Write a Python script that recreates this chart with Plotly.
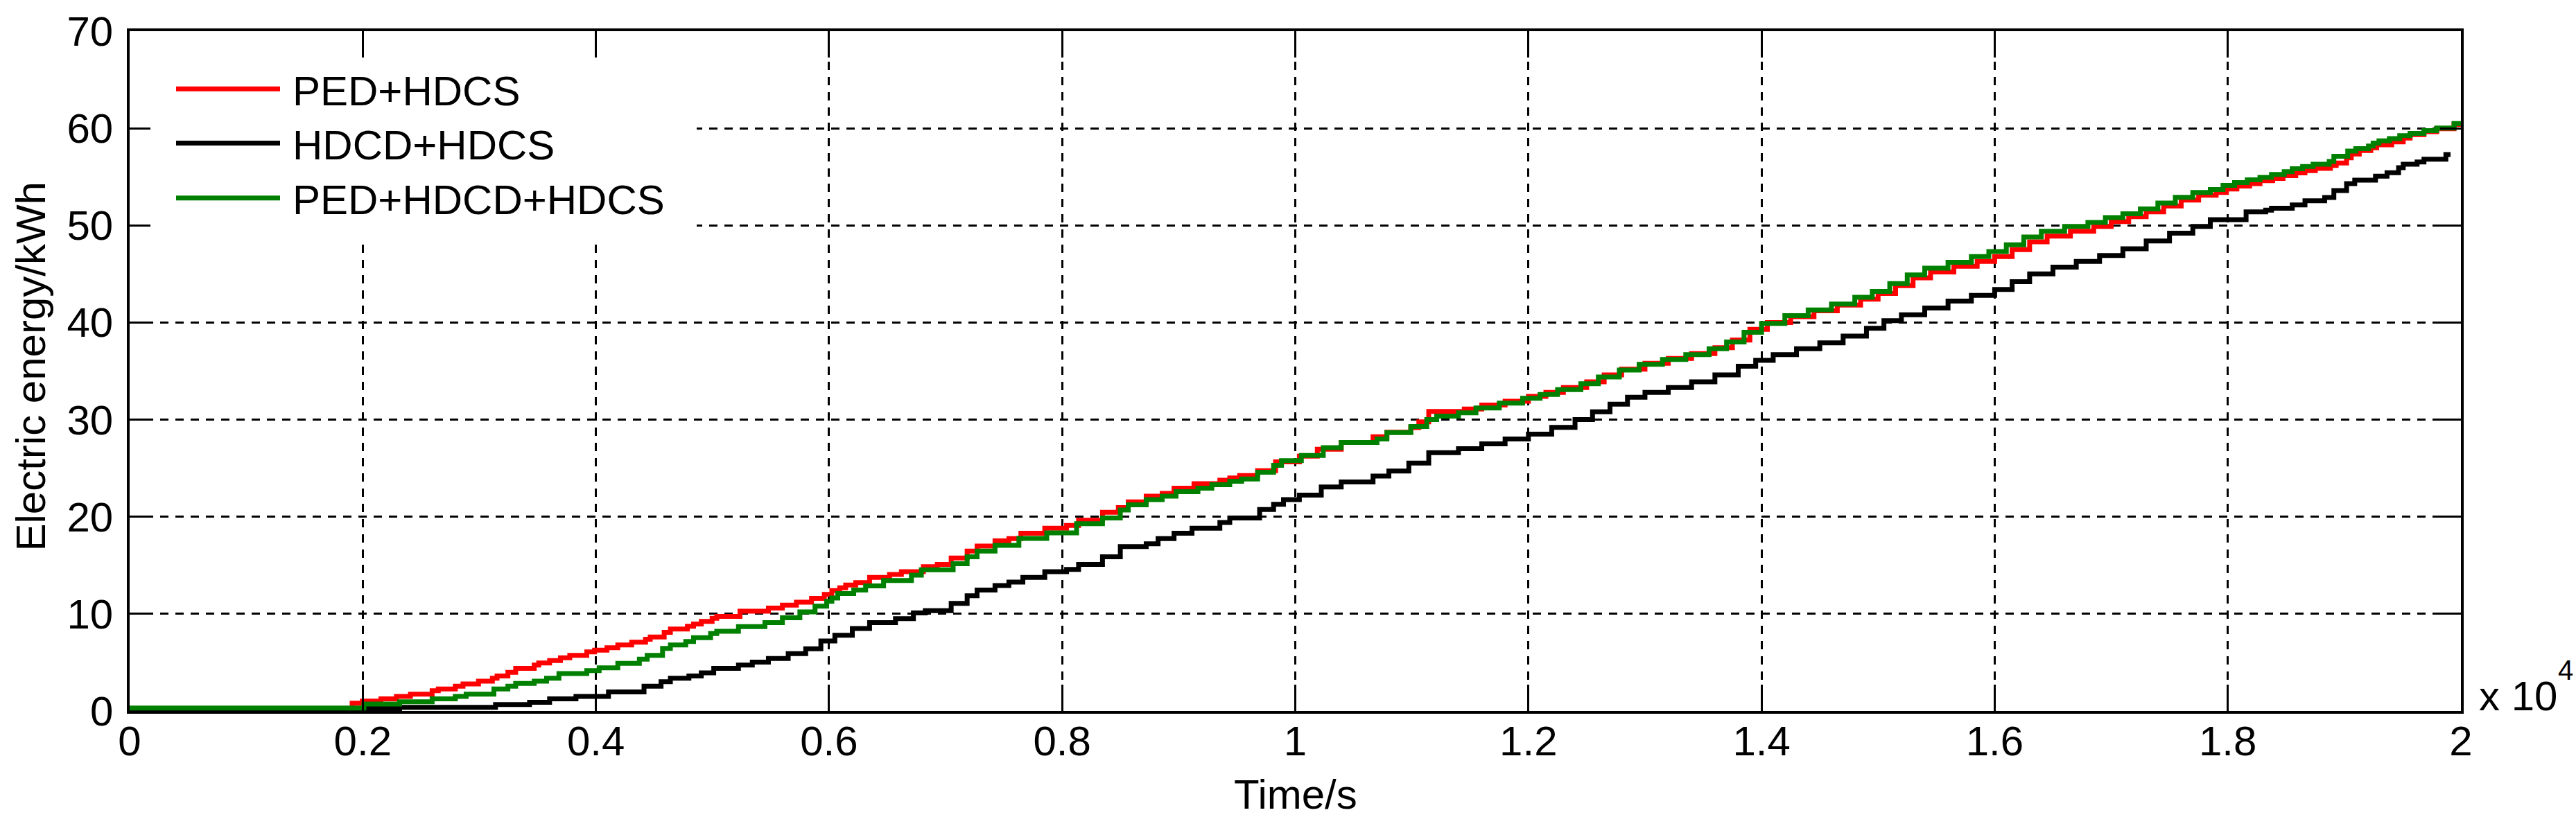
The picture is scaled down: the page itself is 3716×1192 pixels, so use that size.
"""Electric energy vs time for three drive/charging configurations."""
import plotly.graph_objects as go

FONT = "Liberation Sans, Arial, sans-serif"

# step curves: time in s, energy in kWh
ped_t = [0, 1909, 1997, 2156, 2289, 2409, 2595, 2648, 2794, 2860, 2993, 3112, 3152, 3245, 3312,
         3471, 3510, 3603, 3696, 3776, 3922, 3989, 4095, 4188, 4307, 4426, 4466, 4586, 4639, 4785,
         4838, 4904, 4997, 5037, 5236, 5480, 5600, 5720, 5850, 5960, 6024, 6092, 6143, 6229, 6348,
         6519, 6621, 6809, 6929, 7048, 7185, 7270, 7424, 7543, 7646, 7851, 8038, 8141, 8346, 8482,
         8567, 8721, 8858, 8960, 9131, 9353, 9438, 9523, 9677, 9831, 10035, 10189, 10394, 10667,
         10786, 10991, 11060, 11145, 11450, 11600, 11800, 12000, 12150, 12300, 12500, 12650, 12800,
         13000, 13200, 13400, 13600, 13750, 13900, 14050, 14250, 14450, 14650, 14850, 15000, 15150,
         15300, 15450, 15650, 15850, 16000, 16150, 16300, 16450, 16650, 16850, 17000, 17150, 17300,
         17450, 17600, 17750, 17900, 17988, 18078, 18187, 18276, 18385, 18474, 18583, 18662, 18751,
         18880, 18930, 19019, 19059, 19128, 19227, 19277, 19406, 19505, 19564, 19683, 19792, 19941,
         20000]
ped_e = [0.25, 0.8, 1.02, 1.25, 1.49, 1.73, 2.08, 2.27, 2.55, 2.79, 3.07, 3.38, 3.61, 3.97, 4.39,
         4.72, 4.95, 5.19, 5.47, 5.73, 6.09, 6.27, 6.51, 6.79, 7.08, 7.38, 7.62, 8.09, 8.44, 8.73,
         8.96, 9.22, 9.55, 9.74, 10.28, 10.6, 10.9, 11.2, 11.6, 12.0, 12.4, 12.69, 12.97, 13.21, 13.75,
         14.05, 14.34, 14.86, 15.09, 15.75, 16.46, 16.98, 17.52, 17.75, 18.3, 18.82, 19.1, 19.64, 20.47, 20.94,
         21.53, 22.12, 22.4, 22.94, 23.41, 23.77, 24.0, 24.24, 24.75, 25.65, 26.24, 26.95, 27.65, 28.24,
         28.7, 29.19, 29.78, 30.84, 31.1, 31.5, 31.9, 32.4, 32.8, 33.3, 33.9, 34.6, 35.2,
         35.8, 36.3, 36.8, 37.4, 38.2, 39.3, 40.0, 40.6, 41.2, 41.8, 42.4, 43.0, 43.8,
         44.6, 45.2, 45.8, 46.3, 46.8, 47.5, 48.3, 48.9, 49.4, 49.9, 50.4, 50.9, 51.4,
         52.0, 52.6, 53.1, 53.4, 53.75, 54.06, 54.3, 54.6, 54.84, 55.12, 55.4, 55.64, 55.87,
         56.18, 56.42, 56.96, 57.36, 57.71, 58.0, 58.3, 58.6, 59.0, 59.35, 59.65, 59.95, 60.4,
         60.4]

hdcd_t = [0, 2023, 2316, 3139, 3431, 3603, 3829, 4108, 4413, 4559, 4639, 4798, 4904, 5011, 5223,
          5342, 5480, 5650, 5800, 5930, 6050, 6200, 6348, 6570, 6724, 6826, 7048, 7185, 7270, 7424,
          7543, 7663, 7851, 8038, 8141, 8346, 8499, 8721, 8823, 8960, 9114, 9353, 9438, 9694, 9814,
          9899, 10035, 10223, 10394, 10667, 10803, 10974, 11145, 11400, 11600, 11800, 12000, 12200,
          12400, 12550, 12700, 12850, 13000, 13200, 13400, 13600, 13800, 13950, 14100, 14300, 14500,
          14700, 14900, 15050, 15200, 15400, 15600, 15800, 16000, 16150, 16300, 16500, 16700, 16900,
          17100, 17300, 17500, 17700, 17850, 18157, 18325, 18375, 18553, 18662, 18831, 18910, 19019,
          19089, 19267, 19366, 19465, 19505, 19624, 19683, 19871, 19911]
hdcd_e = [0.0, 0.25, 0.38, 0.66, 0.9, 1.25, 1.49, 1.96, 2.55, 3.02, 3.38, 3.61, 3.92, 4.39, 4.72,
          5.03, 5.4, 5.9, 6.4, 7.2, 7.8, 8.5, 9.1, 9.5, 10.09, 10.33, 11.08, 11.86, 12.45, 12.92,
          13.28, 13.75, 14.34, 14.57, 15.09, 15.87, 16.93, 17.21, 17.75, 18.3, 18.82, 19.4, 19.88, 20.75, 21.29,
          21.76, 22.23, 23.06, 23.58, 24.19, 24.71, 25.53, 26.59, 27.0, 27.5, 28.0, 28.5, 29.2,
          30.0, 30.8, 31.6, 32.3, 32.8, 33.3, 33.9, 34.6, 35.5, 36.1, 36.7, 37.3, 37.9,
          38.6, 39.4, 40.2, 40.8, 41.5, 42.2, 42.8, 43.4, 44.2, 45.0, 45.7, 46.3, 46.9,
          47.6, 48.4, 49.2, 49.9, 50.6, 51.4, 51.58, 51.77, 52.1, 52.53, 52.88, 53.59, 54.3,
          54.65, 55.07, 55.43, 55.94, 56.3, 56.53, 56.82, 57.29, 57.29]

all_t = [0, 2010, 2316, 2595, 2794, 2887, 3125, 3245, 3312, 3471, 3577, 3683, 3922, 4028, 4188,
         4373, 4440, 4572, 4639, 4771, 4838, 4984, 5037, 5223, 5450, 5600, 5750, 5880, 5980, 6024,
         6075, 6212, 6314, 6468, 6707, 6792, 7065, 7185, 7270, 7424, 7629, 7868, 8124, 8346, 8499,
         8567, 8721, 8858, 8977, 9165, 9284, 9438, 9540, 9677, 9814, 9882, 10052, 10240, 10394,
         10701, 10786, 10991, 11128, 11213, 11400, 11550, 11750, 11950, 12100, 12250, 12450, 12600,
         12780, 12950, 13150, 13350, 13550, 13700, 13850, 14000, 14200, 14400, 14600, 14800, 14950,
         15100, 15250, 15400, 15600, 15800, 15950, 16100, 16250, 16400, 16600, 16800, 16950, 17100,
         17250, 17400, 17550, 17700, 17850, 17959, 18058, 18167, 18276, 18375, 18484, 18553, 18642,
         18732, 18870, 18910, 19029, 19098, 19207, 19247, 19297, 19386, 19475, 19564, 19683, 19792,
         19941, 20000]
all_e = [0.3, 0.71, 0.95, 1.25, 1.49, 1.73, 2.27, 2.55, 2.83, 3.07, 3.38, 3.85, 4.15, 4.44, 4.91,
         5.33, 5.73, 6.44, 6.79, 7.15, 7.55, 7.97, 8.21, 8.68, 9.1, 9.6, 10.2, 10.8, 11.3, 11.63,
         12.1, 12.45, 12.88, 13.44, 13.98, 14.53, 15.16, 15.87, 16.46, 17.05, 17.76, 18.34, 19.29, 19.88, 20.7,
         21.22, 21.76, 22.12, 22.59, 22.94, 23.29, 23.65, 23.88, 24.59, 25.3, 25.77, 26.31, 27.11, 27.65,
         28.0, 28.67, 29.3, 30.0, 30.36, 30.7, 31.2, 31.7, 32.2, 32.6, 33.1, 33.7, 34.4,
         35.1, 35.7, 36.2, 36.7, 37.3, 38.0, 39.0, 39.9, 40.7, 41.3, 41.9, 42.6, 43.2,
         44.0, 44.9, 45.6, 46.2, 46.8, 47.3, 48.0, 48.8, 49.4, 49.9, 50.3, 50.8, 51.2,
         51.7, 52.3, 52.9, 53.4, 53.7, 54.13, 54.41, 54.7, 54.95, 55.24, 55.54, 55.83, 56.06,
         56.3, 56.58, 57.12, 57.66, 57.9, 58.18, 58.47, 58.7, 58.94, 59.24, 59.48, 59.76, 60.02,
         60.49, 60.49]

series = [
    ("PED+HDCS", ped_t, ped_e, "#ff0000"),
    ("HDCD+HDCS", hdcd_t, hdcd_e, "#000000"),
    ("PED+HDCD+HDCS", all_t, all_e, "#008000"),
]

x_tickvals = [0, 2000, 4000, 6000, 8000, 10000, 12000, 14000, 16000, 18000, 20000]
x_ticktext = ["0", "0.2", "0.4", "0.6", "0.8", "1", "1.2", "1.4", "1.6", "1.8", "2"]
y_tickvals = [0, 10, 20, 30, 40, 50, 60, 70]

W, H = 3716, 1192
L, R, T, B = 187, 166, 36, 166
plot_w, plot_h = W - L - R, H - T - B
X_MAX, Y_MAX = 20000, 70


def px_x(p):
    return (p - L) / plot_w


def px_y(p):
    return (H - B - p) / plot_h


fig = go.Figure()
for name, t, e, color in series:
    fig.add_trace(go.Scatter(x=t, y=e, name=name, mode="lines", line_shape="hv",
                             line=dict(color=color, width=7), showlegend=False))

# hand-drawn legend: white borderless box that hides the grid, long sample lines
fig.add_shape(type="rect", xref="x", yref="y", layer="between",
              x0=px_x(200) * X_MAX, x1=px_x(1005) * X_MAX,
              y0=px_y(337) * Y_MAX, y1=px_y(74) * Y_MAX,
              fillcolor="white", line=dict(width=0))
legend_rows = [120, 199, 279]
for (name, _, _, color), row in zip(series, legend_rows):
    fig.add_shape(type="line", xref="paper", yref="paper", layer="above",
                  x0=px_x(254), x1=px_x(404), y0=px_y(row), y1=px_y(row),
                  line=dict(color=color, width=7))
    fig.add_annotation(text=name, xref="paper", yref="paper", x=px_x(420), y=px_y(row + 3),
                       xanchor="left", yanchor="middle", showarrow=False,
                       font=dict(size=60, color="black", family=FONT))

fig.add_annotation(text="Time/s", xref="paper", yref="paper", x=0.5, y=px_y(1148),
                   xanchor="center", yanchor="middle", showarrow=False,
                   font=dict(size=60, color="black", family=FONT))
fig.add_annotation(text="Electric energy/kWh", xref="paper", yref="paper", x=px_x(45), y=px_y(524),
                   xanchor="center", yanchor="middle", textangle=-90, showarrow=False,
                   font=dict(size=60, color="black", family=FONT))
# axis multiplier, with the exponent as its own small text
fig.add_annotation(text="x 10", xref="paper", yref="paper", x=px_x(3574), y=px_y(1004),
                   xanchor="left", yanchor="middle", showarrow=False,
                   font=dict(size=60, color="black", family=FONT))
fig.add_annotation(text="4", xref="paper", yref="paper", x=px_x(3688), y=px_y(966),
                   xanchor="left", yanchor="middle", showarrow=False,
                   font=dict(size=40, color="black", family=FONT))

axis_common = dict(showline=True, linecolor="black", linewidth=3.5, mirror="ticks",
                   ticks="inside", tickcolor="black", tickwidth=3,
                   showgrid=True, gridcolor="black", gridwidth=3, griddash="12px,10px",
                   zeroline=False, tickfont=dict(size=60, color="black", family=FONT))

fig.update_xaxes(range=[0, X_MAX], tickmode="array", tickvals=x_tickvals, ticktext=x_ticktext,
                 ticklen=38, ticklabelstandoff=-12, **axis_common)
fig.update_yaxes(range=[0, Y_MAX], tickmode="array", tickvals=y_tickvals,
                 ticklen=30, ticklabelstandoff=8, **axis_common)

fig.update_layout(width=W, height=H, autosize=False,
                  margin=dict(l=L, r=R, t=T, b=B, pad=0),
                  paper_bgcolor="white", plot_bgcolor="white",
                  font=dict(family=FONT, color="black"))

# drop the page margin so the figure sits at the window's top-left corner
fig.write_html("out.html", config={"displayModeBar": False},
               post_script="document.body.style.margin='0';document.body.style.overflow='hidden';")
